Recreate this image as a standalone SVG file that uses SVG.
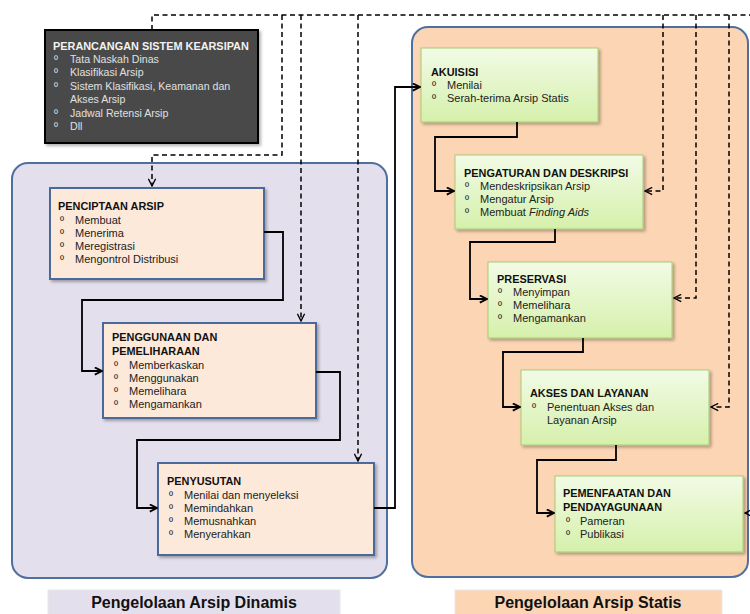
<svg xmlns="http://www.w3.org/2000/svg" width="750" height="614" viewBox="0 0 750 614">
<defs>
<style>
text{font-family:"Liberation Sans",Arial,sans-serif;}
.t{font-size:10.9px;font-weight:bold;fill:#111;}
.i{font-size:11px;fill:#222;}
.dt{font-size:10.9px;font-weight:bold;fill:#f2f2f2;}
.di{font-size:10.6px;fill:#e0e0e0;}
.peach{fill:#fde9d9;stroke:#4a6a9a;stroke-width:2;}
.green{fill:url(#gg);stroke:#a6cc70;stroke-width:1;}
.solid{fill:none;stroke:#000;stroke-width:1.8;}
.dash{fill:none;stroke:#000;stroke-width:1.5;stroke-dasharray:5,3.5;}
.leg{font-size:16px;font-weight:bold;fill:#111;}
</style>
<linearGradient id="gg" x1="0" y1="0" x2="0" y2="1">
<stop offset="0" stop-color="#f2fbe6"/>
<stop offset="1" stop-color="#d5f0ab"/>
</linearGradient>
<filter id="sh" x="-10%" y="-10%" width="125%" height="130%">
<feDropShadow dx="2" dy="2" stdDeviation="1.5" flood-color="#000" flood-opacity="0.3"/>
</filter>
<marker id="as" viewBox="0 0 10 10" refX="9" refY="5" markerWidth="9" markerHeight="9" markerUnits="userSpaceOnUse" orient="auto">
<path d="M1,1 L9,5 L1,9" fill="none" stroke="#000" stroke-width="2"/>
</marker>
<marker id="ad" viewBox="0 0 10 10" refX="9" refY="5" markerWidth="9" markerHeight="9" markerUnits="userSpaceOnUse" orient="auto">
<path d="M1,1 L9,5 L1,9" fill="none" stroke="#000" stroke-width="1.5"/>
</marker>
</defs>
<rect x="0" y="0" width="750" height="614" fill="#ffffff"/>

<g id="container-dinamis">
<rect x="12" y="163" width="375" height="415" rx="16" fill="#e4dfec" stroke="#4f6f9f" stroke-width="2"/>
</g>
<g id="container-statis">
<rect x="412" y="27" width="336" height="550" rx="16" fill="#fcd5b4" stroke="#4f6f9f" stroke-width="2"/>
</g>

<g id="legend-dinamis">
<rect x="48" y="590" width="292" height="26" fill="#e4dfec" stroke="#e8e8e8" stroke-width="1"/>
<text class="leg" x="194" y="608" text-anchor="middle">Pengelolaan Arsip Dinamis</text>
</g>
<g id="legend-statis">
<rect x="455" y="590" width="267" height="26" fill="#fcd5b4" stroke="#e8e8e8" stroke-width="1"/>
<text class="leg" x="588" y="608" text-anchor="middle">Pengelolaan Arsip Statis</text>
</g>

<g id="perancangan">
<rect x="45" y="30" width="213" height="113" fill="#4a4a4a" stroke="#000" stroke-width="2" filter="url(#sh)"/>
<text class="dt" x="53" y="50">PERANCANGAN SISTEM KEARSIPAN</text>
<text class="di" x="54" y="63">º</text><text class="di" x="70" y="63">Tata Naskah Dinas</text>
<text class="di" x="54" y="76">º</text><text class="di" x="70" y="76">Klasifikasi Arsip</text>
<text class="di" x="54" y="90">º</text><text class="di" x="70" y="90">Sistem Klasifikasi, Keamanan  dan</text>
<text class="di" x="70" y="103">Akses  Arsip</text>
<text class="di" x="54" y="117">º</text><text class="di" x="70" y="117">Jadwal Retensi Arsip</text>
<text class="di" x="54" y="130">º</text><text class="di" x="70" y="130">Dll</text>
</g>

<g id="penciptaan">
<rect class="peach" x="50" y="188" width="214" height="91" filter="url(#sh)"/>
<text class="t" x="58" y="210">PENCIPTAAN ARSIP</text>
<text class="i" x="60" y="224">º</text><text class="i" x="75" y="224">Membuat</text>
<text class="i" x="60" y="237">º</text><text class="i" x="75" y="237">Menerima</text>
<text class="i" x="60" y="250">º</text><text class="i" x="75" y="250">Meregistrasi</text>
<text class="i" x="60" y="263">º</text><text class="i" x="75" y="263">Mengontrol Distribusi</text>
</g>

<g id="penggunaan">
<rect class="peach" x="103" y="323" width="213" height="95" filter="url(#sh)"/>
<text class="t" x="112" y="341">PENGGUNAAN DAN</text>
<text class="t" x="112" y="355">PEMELIHARAAN</text>
<text class="i" x="114" y="369">º</text><text class="i" x="129" y="369">Memberkaskan</text>
<text class="i" x="114" y="382">º</text><text class="i" x="129" y="382">Menggunakan</text>
<text class="i" x="114" y="395">º</text><text class="i" x="129" y="395">Memelihara</text>
<text class="i" x="114" y="408">º</text><text class="i" x="129" y="408">Mengamankan</text>
</g>

<g id="penyusutan">
<rect class="peach" x="158" y="463" width="216" height="92" filter="url(#sh)"/>
<text class="t" x="167" y="485">PENYUSUTAN</text>
<text class="i" x="169" y="499">º</text><text class="i" x="184" y="499">Menilai dan menyeleksi</text>
<text class="i" x="169" y="512">º</text><text class="i" x="184" y="512">Memindahkan</text>
<text class="i" x="169" y="525">º</text><text class="i" x="184" y="525">Memusnahkan</text>
<text class="i" x="169" y="538">º</text><text class="i" x="184" y="538">Menyerahkan</text>
</g>

<g id="akuisisi">
<rect class="green" x="421" y="48" width="177" height="74" filter="url(#sh)"/>
<text class="t" x="431" y="76">AKUISISI</text>
<text class="i" x="432" y="89">º</text><text class="i" x="447" y="89">Menilai</text>
<text class="i" x="432" y="102">º</text><text class="i" x="447" y="102">Serah-terima Arsip Statis</text>
</g>

<g id="pengaturan">
<rect class="green" x="455" y="155" width="188" height="74" filter="url(#sh)"/>
<text class="t" x="464" y="177">PENGATURAN DAN DESKRIPSI</text>
<text class="i" x="465" y="190">º</text><text class="i" x="480" y="190">Mendeskripsikan Arsip</text>
<text class="i" x="465" y="203">º</text><text class="i" x="480" y="203">Mengatur  Arsip</text>
<text class="i" x="465" y="216">º</text><text class="i" x="480" y="216">Membuat <tspan font-style="italic">Finding Aids</tspan></text>
</g>

<g id="preservasi">
<rect class="green" x="488" y="262" width="184" height="76" filter="url(#sh)"/>
<text class="t" x="497" y="283">PRESERVASI</text>
<text class="i" x="498" y="296">º</text><text class="i" x="513" y="296">Menyimpan</text>
<text class="i" x="498" y="309">º</text><text class="i" x="513" y="309">Memelihara</text>
<text class="i" x="498" y="322">º</text><text class="i" x="513" y="322">Mengamankan</text>
</g>

<g id="akses">
<rect class="green" x="521" y="370" width="188" height="75" filter="url(#sh)"/>
<text class="t" x="530" y="397">AKSES DAN LAYANAN</text>
<text class="i" x="532" y="411">º</text><text class="i" x="547" y="411">Penentuan Akses dan</text>
<text class="i" x="547" y="424">Layanan Arsip</text>
</g>

<g id="pemenfaatan">
<rect class="green" x="555" y="476" width="188" height="76" filter="url(#sh)"/>
<text class="t" x="563" y="497">PEMENFAATAN DAN</text>
<text class="t" x="563" y="511">PENDAYAGUNAAN</text>
<text class="i" x="566" y="525">º</text><text class="i" x="580" y="525">Pameran</text>
<text class="i" x="566" y="538">º</text><text class="i" x="580" y="538">Publikasi</text>
</g>

<g id="connectors">
<path class="solid" d="M264,232 H283 V300 H82 V371 H102" marker-end="url(#as)"/>
<path class="solid" d="M316,372 H340 V440 H137 V508 H157" marker-end="url(#as)"/>
<path class="solid" d="M374,508 H395 V87 H420" marker-end="url(#as)"/>
<path class="solid" d="M517,122 V137 H435 V191 H454" marker-end="url(#as)"/>
<path class="solid" d="M555,229 V242 H470 V299 H487" marker-end="url(#as)"/>
<path class="solid" d="M583,338 V352 H503 V407 H520" marker-end="url(#as)"/>
<path class="solid" d="M616,445 V460 H537 V513 H554" marker-end="url(#as)"/>

<path class="dash" d="M152,30 V15 H760"/>
<path class="dash" d="M282,15 V155 H152 V186" marker-end="url(#ad)"/>
<path class="dash" d="M301,15 V321" marker-end="url(#ad)"/>
<path class="dash" d="M358,15 V461" marker-end="url(#ad)"/>
<path class="dash" d="M663,15 V191 H645" marker-end="url(#ad)"/>
<path class="dash" d="M696,15 V298 H674" marker-end="url(#ad)"/>
<path class="dash" d="M729,15 V407 H711" marker-end="url(#ad)"/>
<path class="dash" d="M760,15 V513 H745" marker-end="url(#ad)"/>
</g>
</svg>
